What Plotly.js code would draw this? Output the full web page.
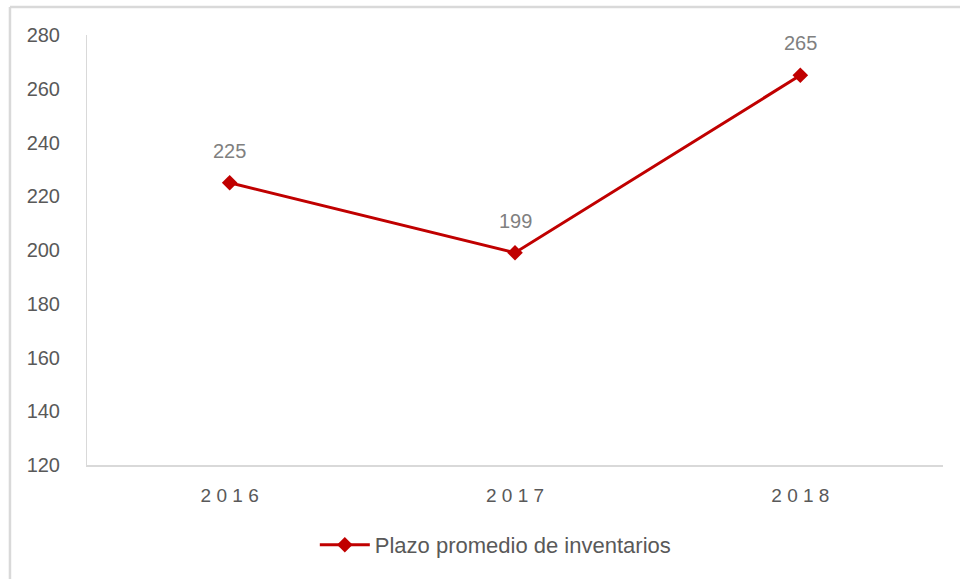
<!DOCTYPE html>
<html>
<head>
<meta charset="utf-8">
<script src="https://cdn.plot.ly/plotly-3.0.1.min.js"></script>
<style>html,body{margin:0;padding:0;background:#fff;}#chart{width:960px;height:579px;}</style>
</head>
<body>
<div id="chart"></div>
<script>
const categories = ['2016', '2017', '2018'];
const tickLabels = ['2 0 1 6', '2 0 1 7', '2 0 1 8'];
const seriesName = 'Plazo promedio de inventarios';
const values = [225, 199, 265];
const yTicks = [120, 140, 160, 180, 200, 220, 240, 260, 280];

const FONT = 'Liberation Sans, Arial, sans-serif';
const RED = '#c00000';

const trace = {
  x: categories,
  y: values,
  type: 'scatter',
  mode: 'lines+markers',
  name: seriesName,
  line: {color: RED, width: 3},
  marker: {symbol: 'diamond', size: 12, color: RED},
  showlegend: true
};

// category axis: annotation x given as category index
const annotations = categories.map((c, i) => ({
  x: i, y: values[i], xref: 'x', yref: 'y',
  text: String(values[i]), showarrow: false, yshift: 32,
  font: {family: FONT, size: 20, color: '#808080'}
}));

const layout = {
  width: 960, height: 579,
  margin: {l: 87, r: 17, t: 35, b: 114},
  paper_bgcolor: '#ffffff', plot_bgcolor: '#ffffff',
  font: {family: FONT, color: '#595959'},
  xaxis: {
    type: 'category', range: [-0.5, 2.5],
    tickvals: categories, ticktext: tickLabels,
    showgrid: false, zeroline: false,
    showline: true, linecolor: '#d9d9d9', linewidth: 2,
    ticks: '', ticklabelstandoff: 12,
    tickfont: {family: FONT, size: 19, color: '#595959'}
  },
  yaxis: {
    range: [120, 280], tickvals: yTicks,
    showgrid: false, zeroline: false,
    showline: true, linecolor: '#d9d9d9', linewidth: 1,
    ticks: '', ticklabelstandoff: 22,
    tickfont: {family: FONT, size: 20, color: '#595959'}
  },
  showlegend: true,
  legend: {
    orientation: 'h', x: 0.477, xanchor: 'center', y: -0.186, yanchor: 'middle',
    font: {family: FONT, size: 22, color: '#595959'},
    itemwidth: 50
  },
  annotations: annotations,
  shapes: [
    {type: 'line', xref: 'paper', yref: 'paper', x0: -0.09, x1: 1.03, y0: 1.0651, y1: 1.0651,
     line: {color: '#d9d9d9', width: 2.5}},
    {type: 'line', xref: 'paper', yref: 'paper', x0: -0.09, x1: -0.09, y0: 1.0651, y1: -0.27,
     line: {color: '#d9d9d9', width: 2.5}}
  ]
};

Plotly.newPlot('chart', [trace], layout, {displayModeBar: false, staticPlot: true});
</script>
</body>
</html>
